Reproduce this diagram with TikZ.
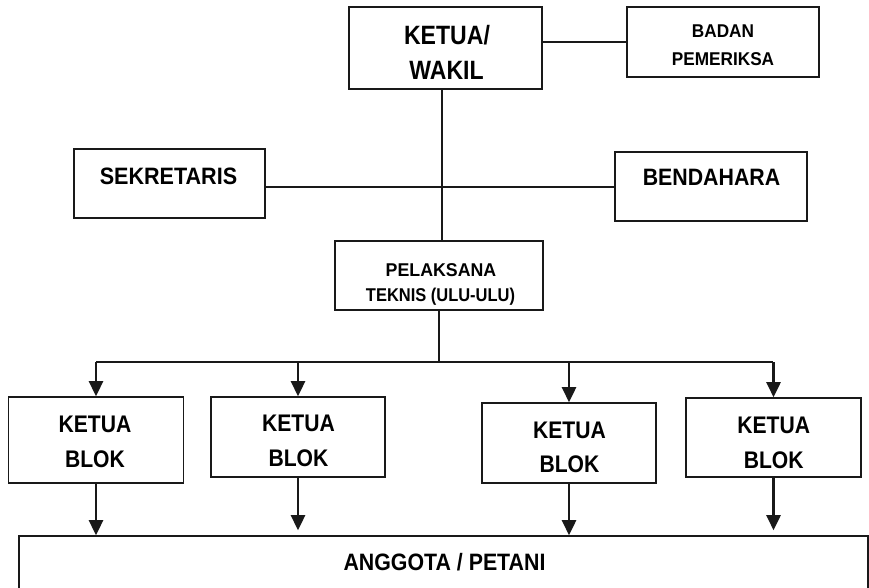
\documentclass[tikz,border=0pt]{standalone}
\usepackage{fontspec}
\usepackage{graphicx}
\setmainfont{Liberation Sans}
\usetikzlibrary{arrows.meta}
\newcommand\sqtxt[3]{\scalebox{#1}[1]{\fontsize{#2}{#2}\selectfont\bfseries #3}}
\tikzset{
  box/.style={draw=black!90, line width=1.6pt, fill=white, inner sep=0pt},
  lbl/.style={anchor=base, inner sep=0pt},
  conn/.style={line width=1.9pt, draw=black!90},
  arr/.style={line width=2.6pt, draw=black!90, -{Triangle[width=14pt,length=15pt]}}
}
\begin{document}
\begin{tikzpicture}[x=1pt,y=-1pt]
\useasboundingbox (0,0) rectangle (869,587);
\clip (0,0) rectangle (869,587);
\fill[white] (0,0) rectangle (869,587);
% boxes
\node[box, minimum width=193pt, minimum height=82pt] (ketua) at (445.5,48) {};
\node[box, minimum width=192pt, minimum height=70pt] (badan) at (723,42) {};
\node[box, minimum width=191pt, minimum height=69pt] (sek) at (169.5,183.5) {};
\node[box, minimum width=192pt, minimum height=69pt] (bend) at (711,186.5) {};
\node[box, minimum width=208pt, minimum height=69pt] (pel) at (439,275.5) {};
\node[box, minimum width=175pt, minimum height=86pt] (kb1) at (96,440) {};
\node[box, minimum width=174pt, minimum height=80pt] (kb2) at (298,437) {};
\node[box, minimum width=174pt, minimum height=80pt] (kb3) at (569,443) {};
\node[box, minimum width=175pt, minimum height=79pt] (kb4) at (773.5,437.5) {};
\node[box, minimum width=849pt, minimum height=80pt] (ang) at (443.5,576) {};
% labels
\node[lbl] (tketua1) at (447,44) {\sqtxt{0.87}{26.5}{KETUA/}};
\node[lbl] (tketua2) at (446.5,79) {\sqtxt{0.87}{26.5}{WAKIL}};
\node[lbl] (tbadan1) at (723,37) {\sqtxt{0.93}{18.5}{BADAN}};
\node[lbl] (tbadan2) at (723,65) {\sqtxt{0.93}{18.5}{PEMERIKSA}};
\node[lbl] (tsek) at (168.5,184) {\sqtxt{0.91}{23.7}{SEKRETARIS}};
\node[lbl] (tbend) at (711.5,185) {\sqtxt{0.9}{23.7}{BENDAHARA}};
\node[lbl] (tpel1) at (441,276) {\sqtxt{0.96}{18.5}{PELAKSANA}};
\node[lbl] (tpel2) at (440.5,301) {\sqtxt{0.89}{18.5}{TEKNIS (ULU-ULU)}};
\node[lbl] (tkb1a) at (95,432) {\sqtxt{0.88}{24}{KETUA}};
\node[lbl] (tkb1b) at (95,467) {\sqtxt{0.88}{24}{BLOK}};
\node[lbl] (tkb2a) at (298.5,431.5) {\sqtxt{0.88}{24}{KETUA}};
\node[lbl] (tkb2b) at (298.5,466.5) {\sqtxt{0.88}{24}{BLOK}};
\node[lbl] (tkb3a) at (569.5,438) {\sqtxt{0.88}{24}{KETUA}};
\node[lbl] (tkb3b) at (569.5,472) {\sqtxt{0.88}{24}{BLOK}};
\node[lbl] (tkb4a) at (773.7,433) {\sqtxt{0.88}{24}{KETUA}};
\node[lbl] (tkb4b) at (773.7,468) {\sqtxt{0.88}{24}{BLOK}};
\node[lbl] (tang) at (444.5,570) {\sqtxt{0.9}{23.7}{ANGGOTA / PETANI}};
% connectors
\coordinate (j) at (442,187);
\coordinate (bus) at (439,362);
\coordinate (busL) at (96,362);
\coordinate (busR) at (773,362);
\draw[conn] (ketua.east |- badan.west) -- (badan.west);
\draw[conn] (ketua.south -| j) -- (j) -- (j |- pel.north);
\draw[conn] (sek.east |- j) -- (bend.west |- j);
\draw[conn] (pel.south) -- (bus);
\draw[conn] (busL) -- (busR);
\draw[arr] (kb1.north |- busL) -- (kb1.north);
\draw[arr] (kb2.north |- busL) -- (kb2.north);
\draw[arr] (kb3.north |- busL) -- (kb3.north);
\draw[arr] (kb4.north |- busL) -- (kb4.north);
\draw[arr] (kb1.south) -- (kb1.south |- ang.north);
\draw[arr, shorten >=5pt] (kb2.south) -- (kb2.south |- ang.north);
\draw[arr] (kb3.south) -- (kb3.south |- ang.north);
\draw[arr, shorten >=5pt] (kb4.south) -- (kb4.south |- ang.north);
\end{tikzpicture}
\end{document}
